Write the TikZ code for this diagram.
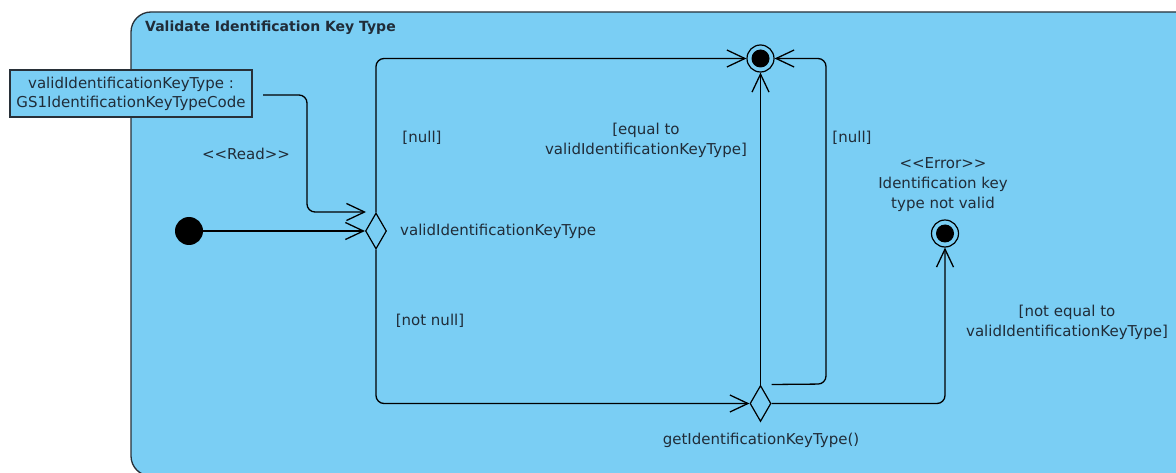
\documentclass[tikz,border=0pt]{standalone}
\usepackage{fontspec}
\setmainfont{DejaVu Sans}
\usetikzlibrary{arrows.meta,shapes.geometric}
\definecolor{actfill}{RGB}{122,206,244}
\definecolor{labeltext}{RGB}{32,44,56}
\definecolor{frameline}{RGB}{40,48,56}

\begin{document}
\begin{tikzpicture}[x=1pt,y=-1pt,
  font=\fontsize{15}{20}\selectfont,
  lbl/.style={text=labeltext, inner sep=0pt, align=center},
  flow/.style={draw=black, line width=1.3pt, rounded corners=8pt,
    -{Straight Barb[length=18pt,width=17pt,line width=1.3pt]}},
  decision/.style={diamond, draw=black, line width=1.2pt, fill=actfill,
    minimum width=21pt, minimum height=36pt, inner sep=0pt},
  finalnode/.style={circle, draw=black, line width=1.2pt, fill=actfill,
    minimum size=27pt, inner sep=0pt},
  initnode/.style={circle, fill=black, minimum size=28pt, inner sep=0pt},
  objnode/.style={draw=frameline, line width=1.2pt, fill=actfill, text=labeltext,
    minimum width=242pt, minimum height=47pt, inner sep=0pt, align=center,
    font=\fontsize{15}{19}\selectfont}
]
\useasboundingbox (0,0) rectangle (1176,473);

% activity frame
\draw[frameline, line width=1.3pt, fill=actfill, rounded corners=20pt]
  (131,12) rectangle (1200,476);
\node[lbl, anchor=west, font=\fontsize{14}{20}\selectfont\bfseries] (title) at (145,28)
  {Validate Identification Key Type};

% nodes
\node[objnode] (obj) at (131,93.5) {validIdentificationKeyType :\\GS1IdentificationKeyTypeCode};
\node[initnode] (init) at (189,231) {};
\node[decision] (d1) at (376,231) {};
\node[finalnode] (f1) at (760.5,58.5) {};
\fill (f1.center) circle (9pt);
\node[decision] (d2) at (760.5,403.5) {};
\node[finalnode] (f2) at (945,233.5) {};
\fill (f2.center) circle (9pt);

\coordinate (objout) at (263,95);
\coordinate (readin) at (366,212);
\coordinate (d2loop) at ([yshift=19pt]d2.east);

% flows
\draw[flow] (init) -- (d1.west);
\draw[flow] (objout) -- (307,95) -- (307,212) -- (readin);
\draw[flow] (d1.north) |- (f1.west);
\draw[flow] (d1.south) |- (d2.west);
\draw[flow] (d2.north) -- (f1.south);
\draw[flow] (d2loop) -- (826,384) -- (826,58.5) -- (f1.east);
\draw[flow] (d2.east) -| (f2.south);

% labels
\node[lbl] (readlbl) at (246,154) {{<}{<}Read{>}{>}};
\node[lbl, anchor=west] (d1lbl) at (400,231) {validIdentificationKeyType};
\node[lbl] (null1) at (422,138) {[null]};
\node[lbl] (notnull) at (430,321) {[not null]};
\node[lbl] (eqlbl) at (646,140) {[equal to\\validIdentificationKeyType]};
\node[lbl] (null2) at (852,138) {[null]};
\node[lbl] (errlbl) at (943,185) {{<}{<}Error{>}{>}\\Identification key\\type not valid};
\node[lbl] (neqlbl) at (1067,322) {[not equal to\\validIdentificationKeyType]};
\node[lbl] (d2lbl) at (761,440) {getIdentificationKeyType()};
\end{tikzpicture}
\end{document}
